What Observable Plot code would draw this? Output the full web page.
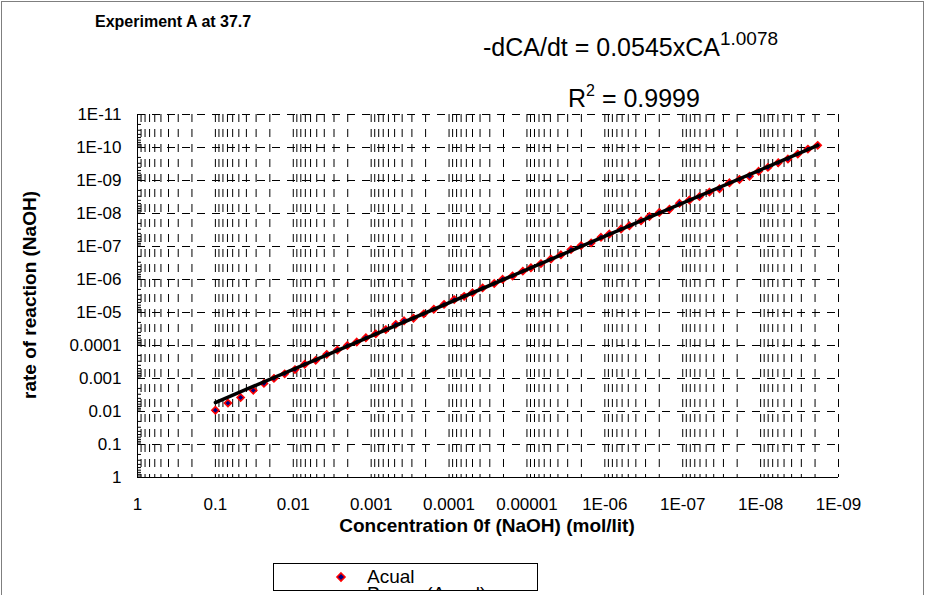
<!DOCTYPE html>
<html>
<head>
<meta charset="utf-8">
<script src="https://cdn.jsdelivr.net/npm/d3@7"></script>
<script src="https://cdn.jsdelivr.net/npm/@observablehq/plot@0.6"></script>
<style>
  html, body { margin: 0; padding: 0; background: #fff; }
  #figure { position: relative; width: 930px; height: 595px; overflow: hidden;
            font-family: "Liberation Sans", Arial, sans-serif; color: #000; }
  #figure > svg { position: absolute; left: 0; top: 0; }
  .frame { position: absolute; left: 1px; top: 1px; width: 923px; height: 640px;
           border: 1px solid #7f7f7f; box-sizing: border-box; }
  .title { position: absolute; left: 95px; top: 13px; font-weight: bold; font-size: 16px; white-space: nowrap; }
  .equation { position: absolute; left: 483px; top: 35px; font-size: 25px; line-height: 25px; white-space: nowrap; }
  .equation sup { font-size: 19px; vertical-align: 0; position: relative; top: -11px; }
  .r2 { position: absolute; left: 568px; top: 86px; font-size: 25px; line-height: 25px; white-space: nowrap; }
  .r2 sup { font-size: 16px; vertical-align: 0; position: relative; top: -11px; }
  .ylabel { position: absolute; left: 30px; top: 295px; transform: translate(-50%, -50%) rotate(-90deg);
            font-weight: bold; font-size: 19px; white-space: nowrap; }
  .xlabel { position: absolute; left: 487px; top: 515px; transform: translateX(-50%);
            font-weight: bold; font-size: 19px; white-space: nowrap; }
  .legend { position: absolute; left: 273px; top: 563px; width: 265px; height: 28px;
            border: 1px solid #000; box-sizing: border-box; overflow: hidden; background: #fff; }
  .legend .row { position: relative; height: 20px; line-height: 20px; font-size: 19px; padding-left: 93px; }
  .legend .row:first-child { margin-top: 3px; }
  .legend .row + .row { margin-top: -3px; }
  .legend svg { position: absolute; left: 55px; top: 0; }
</style>
</head>
<body>
<div id="figure">
  <div class="frame"></div>
  <div class="title">Experiment A at 37.7</div>
  <div class="equation">-dCA/dt = 0.0545xCA<sup>1.0078</sup></div>
  <div class="r2">R<sup>2</sup> = 0.9999</div>
  <div class="ylabel">rate of reaction (NaOH)</div>
  <div class="xlabel">Concentration 0f (NaOH) (mol/lit)</div>
  <div class="legend">
    <div class="row"><svg width="24" height="20"><path d="M12,6 L16,10 L12,14 L8,10 Z" fill="#000080" stroke="#ff0000" stroke-width="1.6"/></svg>Acual</div>
    <div class="row"><svg width="24" height="20"><line x1="0" y1="10" x2="24" y2="10" stroke="#000" stroke-width="3"/></svg>Power (Acual)</div>
  </div>
</div>
<script>
// Measured concentration of NaOH (mol/lit) and the corresponding rate of reaction
const concentration = [
  1.00e-1, 6.90e-2, 4.74e-2, 3.26e-2, 2.38e-2, 1.77e-2, 1.29e-2, 9.51e-3, 7.13e-3, 5.15e-3,
  3.72e-3, 2.71e-3, 2.02e-3, 1.53e-3, 1.17e-3, 8.73e-4, 6.49e-4, 4.83e-4, 3.78e-4, 2.86e-4,
  2.11e-4, 1.57e-4, 1.16e-4, 8.59e-5, 6.40e-5, 4.99e-5, 3.71e-5, 2.63e-5, 2.05e-5, 1.53e-5,
  1.13e-5, 8.89e-6, 6.61e-6, 4.92e-6, 3.66e-6, 2.72e-6, 2.02e-6, 1.50e-6, 1.12e-6, 8.75e-7,
  6.19e-7, 4.84e-7, 3.43e-7, 2.68e-7, 2.00e-7, 1.48e-7, 1.10e-7, 8.20e-8, 6.10e-8, 4.54e-8,
  3.37e-8, 2.51e-8, 1.87e-8, 1.39e-8, 1.06e-8, 8.05e-9, 5.94e-9, 4.46e-9, 3.33e-9, 2.47e-9,
  1.85e-9
];
const rate = [
  9.14e-3, 5.57e-3, 3.77e-3, 2.29e-3, 1.41e-3, 9.93e-4, 7.23e-4, 5.37e-4, 3.71e-4, 2.82e-4,
  1.85e-4, 1.37e-4, 1.00e-4, 7.83e-5, 5.82e-5, 4.43e-5, 3.30e-5, 2.28e-5, 1.78e-5, 1.49e-5,
  1.10e-5, 7.94e-6, 5.68e-6, 4.07e-6, 3.24e-6, 2.53e-6, 1.80e-6, 1.32e-6, 9.86e-7, 7.82e-7,
  5.60e-7, 4.40e-7, 3.30e-7, 2.40e-7, 1.78e-7, 1.24e-7, 9.38e-8, 7.80e-8, 5.26e-8, 4.19e-8,
  2.96e-8, 2.36e-8, 1.67e-8, 1.23e-8, 9.30e-9, 7.43e-9, 4.91e-9, 3.91e-9, 3.09e-9, 2.25e-9,
  1.78e-9, 1.17e-9, 9.30e-10, 7.43e-10, 5.26e-10, 4.02e-10, 2.89e-10, 2.23e-10, 1.58e-10, 1.12e-10,
  8.60e-11
];

// Power trendline: -dCA/dt = 0.0545 * CA^1.0078
const trendCoefficient = 0.0545;
const trendExponent = 1.0078;

// Axis ticks (both axes run from large to small values)
const xTickValues = [1, 0.1, 0.01, 0.001, 1e-4, 1e-5, 1e-6, 1e-7, 1e-8, 1e-9];
const xTickLabels = ["1", "0.1", "0.01", "0.001", "0.0001", "0.00001", "1E-06", "1E-07", "1E-08", "1E-09"];
const yTickValues = [1, 0.1, 0.01, 0.001, 1e-4, 1e-5, 1e-6, 1e-7, 1e-8, 1e-9, 1e-10, 1e-11];
const yTickLabels = ["1", "0.1", "0.01", "0.001", "0.0001", "1E-05", "1E-06", "1E-07", "1E-08", "1E-09", "1E-10", "1E-11"];

const points = concentration.map((c, i) => ({c, r: rate[i]}));
const trendEnds = [concentration[0], concentration[concentration.length - 1]];
const trend = trendEnds.map(c => ({c, r: trendCoefficient * Math.pow(c, trendExponent)}));

// Gridlines at 1..9 x 10^k inside each decade
const subdivisions = (ticks) => ticks.slice(1).flatMap(t => d3.range(1, 10).map(m => m * t));
const gridX = subdivisions(xTickValues);
const minorY = subdivisions(yTickValues).filter((d, i) => i % 9 !== 0);

const xLabel = new Map(xTickValues.map((v, i) => [v, xTickLabels[i]]));
const yLabel = new Map(yTickValues.map((v, i) => [v, yTickLabels[i]]));

const W = 930, H = 595, ML = 137, MR = 92, MT = 114, MB = 118;
const dash = "8,7";

const chart = Plot.plot({
  width: W, height: H,
  marginLeft: ML, marginRight: MR, marginTop: MT, marginBottom: MB,
  style: {fontFamily: '"Liberation Sans", Arial, sans-serif', background: "transparent", color: "#000"},
  x: {type: "log", domain: [1, 1e-9]},
  y: {type: "log", domain: [1, 1e-11]},
  marks: [
    Plot.ruleX(gridX, {stroke: "#000", strokeWidth: 1, strokeDasharray: dash}),
    Plot.ruleY(yTickValues.slice(1), {stroke: "#000", strokeWidth: 1, strokeDasharray: dash}),
    Plot.tickY(minorY, {y: d => d, stroke: "#000", insetRight: W - ML - MR - 4}),
    Plot.ruleX([1], {stroke: "#000", strokeWidth: 1}),
    Plot.ruleY([1], {stroke: "#000", strokeWidth: 1}),
    Plot.axisX({ticks: xTickValues, tickFormat: d => xLabel.get(d), tickSize: 0, tickPadding: 20, fontSize: 17, label: null}),
    Plot.axisY({ticks: yTickValues, tickFormat: d => yLabel.get(d), tickSize: 0, tickPadding: 16, fontSize: 17, label: null}),
    Plot.dot(points, {x: "c", y: "r", symbol: "diamond2", r: 3.2, fill: "#000080", stroke: "#ff0000", strokeWidth: 1.6}),
    Plot.line(trend, {x: "c", y: "r", stroke: "#000", strokeWidth: 3.5})
  ]
});

document.getElementById("figure").appendChild(chart);
</script>
</body>
</html>
